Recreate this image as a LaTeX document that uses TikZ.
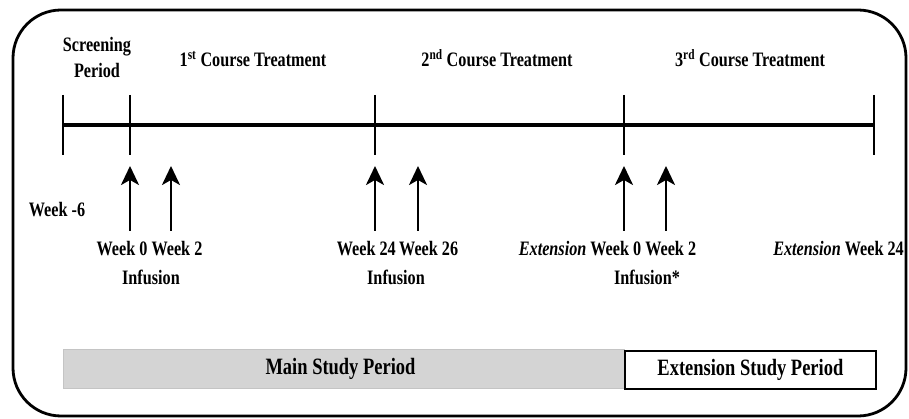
\documentclass[tikz,border=0pt]{standalone}
\usepackage{fontspec}
\setmainfont{Liberation Serif}[FakeStretch=0.79]
\usetikzlibrary{arrows.meta}
\definecolor{bargray}{RGB}{212,212,212}
\definecolor{baredge}{RGB}{196,196,196}
\begin{document}
\begin{tikzpicture}[x=1pt,y=-1pt,
  lbl/.style={font=\bfseries\fontsize{20.5}{26}\selectfont, inner sep=0pt, anchor=base},
  bigfont/.style={font=\bfseries\fontsize{23.4}{28}\selectfont},
  mainline/.style={line width=3.5pt},
  tickline/.style={line width=2.5pt},
  uparrow/.style={line width=2.5pt, -{Stealth[length=19pt,width=18pt,inset=5pt]}},
  framebox/.style={line width=2.8pt, rounded corners=48pt}
]
\useasboundingbox (0,0) rectangle (909,419);
% outer frame
\draw[framebox] (13,10) rectangle (906,416);

% timeline points
\foreach \n/\x in {t0/63,t1/130,t2/375,t3/624,t4/874}{
  \coordinate (\n) at (\x,125);
  \coordinate (\n u) at (\x,95);
  \coordinate (\n d) at (\x,155);
}
\draw[mainline] (t0) -- (t4);
\foreach \n in {t0,t1,t2,t3,t4}{
  \draw[tickline] (\n u) -- (\n d);
}

% arrows
\foreach \n/\x in {a1/130,a2/171,a3/375,a4/418,a5/624,a6/666}{
  \coordinate (\n b) at (\x,231);
  \coordinate (\n t) at (\x,166);
  \draw[uparrow] (\n b) -- (\n t);
}

% top labels
\node[lbl] (scr1) at (97,52) {Screening};
\node[lbl] (scr2) at (97,78) {Period};
\node[lbl] (c1) at (253,67) {1\textsuperscript{st} Course Treatment};
\node[lbl] (c2) at (497,67) {2\textsuperscript{nd} Course Treatment};
\node[lbl] (c3) at (750,67) {3\textsuperscript{rd} Course Treatment};

% bottom labels
\node[lbl] (wm6) at (57,217) {Week -6};
\node[lbl] (w02) at (149.5,256) {Week 0 Week 2};
\node[lbl] (inf1) at (151,284) {Infusion};
\node[lbl] (w2426) at (397.5,256) {Week 24\,Week 26};
\node[lbl] (inf2) at (396,284) {Infusion};
\node[lbl] (ew02) at (607.5,256) {\textit{Extension} Week 0 Week 2};
\node[lbl] (inf3) at (647,284) {Infusion*};
\node[lbl] (ew24) at (838.5,256) {\textit{Extension} Week 24};

% study period bars
\node[bigfont, fill=bargray, draw=baredge, line width=1pt, anchor=north west,
      minimum width=561pt, minimum height=39pt, inner sep=0pt] (main) at (63,349) {\hspace*{-7pt}Main Study Period};
\node[bigfont, fill=white, draw=black, line width=1.8pt, anchor=north west,
      minimum width=251pt, minimum height=38pt, inner sep=0pt] (ext) at (624,350) {Extension Study Period};
\end{tikzpicture}
\end{document}
